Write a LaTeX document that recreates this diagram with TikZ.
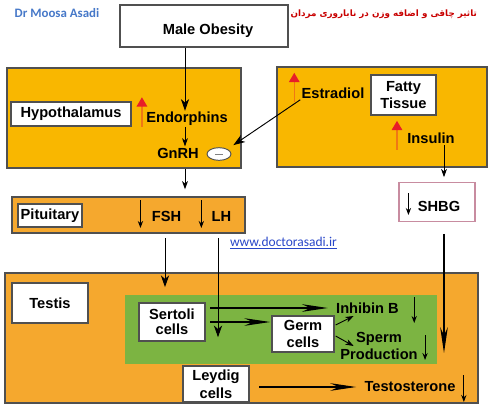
\documentclass[tikz,border=0pt]{standalone}
\usepackage{fontspec}
\setsansfont{Liberation Sans}
\newfontfamily\calibfont{Carlito}
\newfontfamily\farsifont[Script=Arabic]{DejaVu Sans}
\TeXXeTstate=1
\usetikzlibrary{arrows.meta, shapes.geometric, calc}
\definecolor{hypoorange}{RGB}{249,183,0}
\definecolor{testorange}{RGB}{245,168,46}
\definecolor{sertgreen}{RGB}{124,180,66}
\definecolor{upred}{RGB}{232,30,40}
\definecolor{upshaft}{RGB}{240,120,20}
\definecolor{boxgray}{RGB}{80,80,80}
\definecolor{shbgpink}{RGB}{200,140,160}
\definecolor{asadiblue}{RGB}{70,120,200}
\definecolor{linkblue}{RGB}{40,70,200}
\definecolor{titlered}{RGB}{200,0,0}

\tikzset{
  panel/.style={draw=boxgray, line width=1.1pt, inner sep=0pt},
  whitebox/.style={draw=boxgray, fill=white, line width=1.1pt, inner sep=1pt,
    font=\sffamily\bfseries\fontsize{12.5}{15}\selectfont, align=center},
  txt/.style={inner sep=1pt, font=\sffamily\bfseries\fontsize{12.5}{15}\selectfont, align=center},
  arr/.style={line width=0.8pt, -{Stealth[length=10pt,width=7pt,inset=3pt]}},
  smallarr/.style={line width=0.8pt, -{Stealth[length=7pt,width=5pt,inset=2pt]}},
  longarr/.style={line width=1pt, -{Stealth[length=22pt,width=6.5pt,inset=7pt]}},
  downarr/.style={line width=0.9pt, -{Stealth[length=6pt,width=4.5pt,inset=2pt]}},
  uparr/.style={line width=1.3pt, draw=upshaft, -{Triangle[length=8pt,width=9pt,color=upred]}},
}

\begin{document}
\begin{tikzpicture}[x=0.03cm, y=-0.03cm]
  \useasboundingbox (0,0) rectangle (490,406);
  % headers
  \node[font=\calibfont\bfseries\fontsize{11}{13}\selectfont, text=asadiblue] (author) at (57,13) {Dr Moosa Asadi};
  \node[font=\farsifont\bfseries\fontsize{7.5}{10}\selectfont, text=titlered, anchor=east] (title) at (481,14)
    {\beginR تاثیر چاقی و اضافه وزن در ناباروری مردان\endR};
  \node[whitebox, minimum width=5.04cm, minimum height=1.26cm] (obesity) at (204,26) {};
  \node[txt] (obesitytxt) at (208,31) {Male Obesity};

  % hypothalamus
  \node[panel, fill=hypoorange, minimum width=7.02cm, minimum height=3cm] (hypopanel) at (124,118) {};
  \node[whitebox, minimum width=3.6cm, minimum height=0.72cm] (hypo) at (71,114) {Hypothalamus};
  \node[txt] (endorphins) at (187,119) {Endorphins};
  \node[txt] (gnrh) at (178,153) {GnRH};
  \node[ellipse, draw=boxgray, fill=white, line width=0.8pt, inner sep=0pt,
    minimum width=0.72cm, minimum height=0.38cm] (inhib) at (219,154) {\textcolor{gray}{\rule{7pt}{0.6pt}}};

  % fatty tissue
  \node[panel, fill=hypoorange, minimum width=6.3cm, minimum height=3cm] (fatpanel) at (382,117) {};
  \node[whitebox, minimum width=1.95cm, minimum height=1.2cm] (fatty) at (403.5,95) {Fatty\\Tissue};
  \node[txt] (estradiol) at (333,93) {Estradiol};
  \node[txt] (insulin) at (431,138) {Insulin};
  \node[whitebox, draw=shbgpink, minimum width=2.28cm, minimum height=1.17cm] (shbg) at (437,202) {};
  \node[txt] (shbgtxt) at (439,206) {SHBG};

  % pituitary
  \node[panel, fill=testorange, minimum width=6.99cm, minimum height=1.08cm] (pitpanel) at (128.5,215) {};
  \node[whitebox, minimum width=1.92cm, minimum height=0.69cm] (pit) at (50,215.5) {Pituitary};
  \node[txt] (fsh) at (166.5,216) {FSH};
  \node[txt] (lh) at (221.5,216) {LH};
  \node[font=\calibfont\fontsize{11.5}{13}\selectfont, text=linkblue] (url) at (283.5,243) {\underline{www.doctorasadi.ir}};

  % testis
  \node[panel, fill=testorange, minimum width=14.19cm, minimum height=3.9cm] (testpanel) at (241.5,338) {};
  \node[whitebox, minimum width=2.28cm, minimum height=1.2cm] (testis) at (50,303) {Testis};
  \node[fill=sertgreen, inner sep=0pt, minimum width=9.36cm, minimum height=2.07cm] (green) at (281,329.5) {};
  \node[whitebox, minimum width=1.98cm, minimum height=1.14cm,
    font=\sffamily\bfseries\fontsize{12.5}{13}\selectfont] (sertoli) at (172,322) {Sertoli\\cells};
  \node[whitebox, minimum width=1.86cm, minimum height=1.08cm] (germ) at (303,334) {Germ\\cells};
  \node[whitebox, minimum width=1.98cm, minimum height=1.08cm] (leydig) at (216,384) {Leydig\\cells};
  \node[txt] (inhibin) at (367.5,308) {Inhibin B};
  \node[txt] (sperm) at (379,346) {Sperm\\Production};
  \node[txt] (testo) at (410,387) {Testosterone};

  % rising and falling levels
  \draw[uparr] ($(endorphins.south west)+(-3,0)$) -- ++(0,-30);
  \draw[uparr] ($(estradiol.south west)+(-6,2)$) -- ++(0,-29);
  \draw[uparr] ($(insulin.south west)+(-9,5)$) -- ++(0,-29);
  \draw[downarr] ($(fsh.west)+(-10,-16)$) -- ++(0,28);
  \draw[downarr] ($(lh.west)+(-9,-16)$) -- ++(0,28);
  \draw[downarr] ($(shbgtxt.west)+(-8,-13)$) -- ++(0,22);
  \draw[downarr] ($(inhibin.east)+(14,-11)$) -- ++(0,26);
  \draw[downarr] ($(sperm.east)+(6,-11)$) -- ++(0,25);
  \draw[downarr] ($(testo.east)+(7,-12)$) -- ++(0,27);

  % connectors
  \coordinate (hcol) at (185,0);
  \coordinate (fcol) at (165,0);
  \coordinate (lcol) at (218,0);
  \coordinate (scol) at (444,0);
  \coordinate (shbgend) at (444,353);
  \draw[arr] (obesity.south -| hcol) -- (endorphins.north -| hcol);
  \draw[smallarr] (endorphins.south -| hcol) -- (gnrh.north -| hcol);
  \draw[arr, shorten >=6pt] (estradiol.south west) -- (inhib.30);
  \draw[smallarr, shorten >=6pt] (hypopanel.south -| hcol) -- (pitpanel.north -| hcol);
  \draw[smallarr, shorten >=4pt] (insulin.south -| scol) -- (shbg.north -| scol);
  \draw[arr, shorten <=4pt, shorten >=13pt] (pitpanel.south -| fcol) -- (sertoli.north -| fcol);
  \draw[longarr, shorten <=10pt] (shbg.south -| scol) -- (shbgend);
  \draw[longarr, shorten <=4pt, shorten >=6pt] (sertoli.east |- inhibin.west) -- (inhibin.west);
  \draw[longarr, shorten <=4pt, shorten >=1pt] (sertoli.east) -- (sertoli.east -| germ.west);
  \draw[arr, shorten <=4pt, shorten >=24pt] (pitpanel.south -| lcol) -- (leydig.north -| lcol);
  \draw[smallarr] ($(germ.east)+(1,-9)$) -- ++(18,-9);
  \draw[smallarr] ($(germ.east)+(1,2)$) -- ++(18,10);
  \draw[longarr, shorten <=8pt, shorten >=6pt] (leydig.east |- testo.west) -- (testo.west);
\end{tikzpicture}
\end{document}
